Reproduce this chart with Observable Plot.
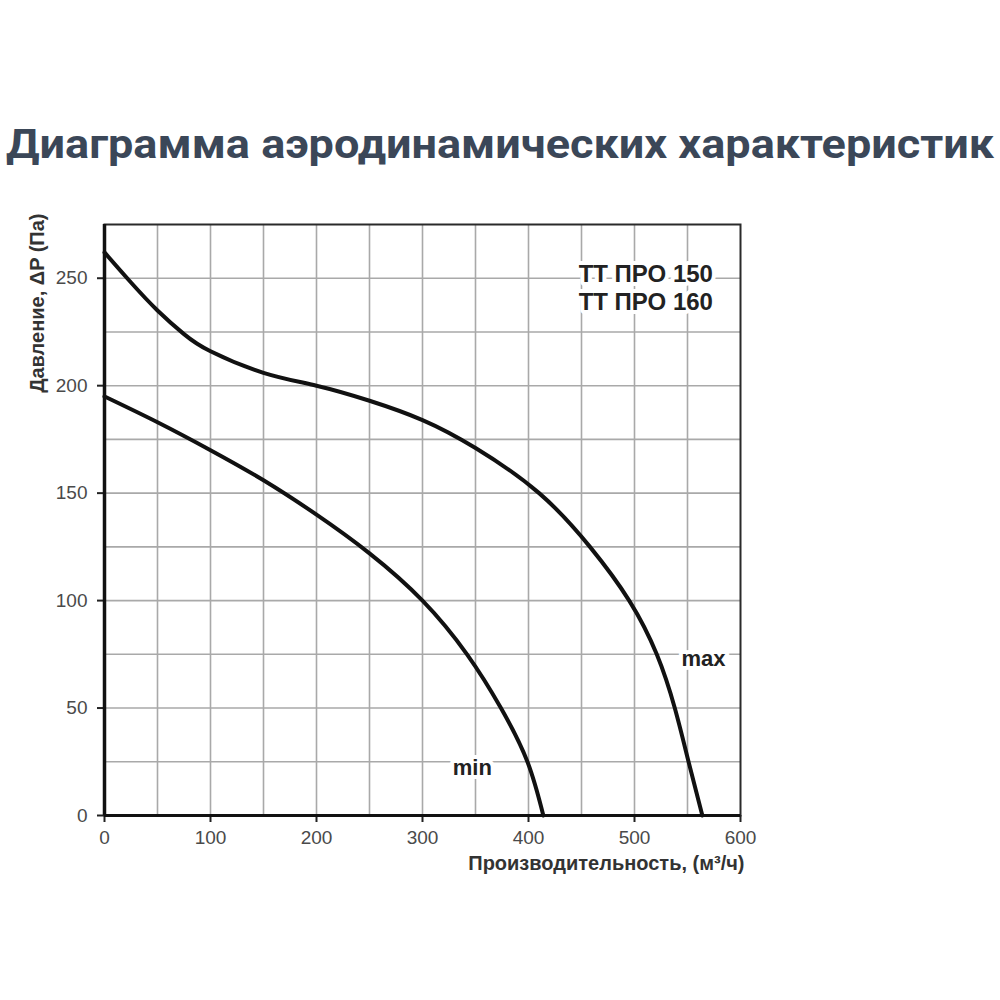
<!DOCTYPE html>
<html><head><meta charset="utf-8">
<script src="https://cdn.jsdelivr.net/npm/d3@7"></script>
<script src="https://cdn.jsdelivr.net/npm/@observablehq/plot@0.6"></script>
<style>
body{margin:0;background:#fff;width:1000px;height:1000px;position:relative;overflow:hidden}
#title{position:absolute;left:6px;top:125px;font-family:Roboto,sans-serif;font-weight:700;font-size:40px;color:#3b4758;white-space:nowrap;transform-origin:0 0;line-height:1}
#chart{position:absolute;left:0;top:200px}
</style></head><body>
<div id="title">Диаграмма аэродинамических характеристик</div>
<div id="chart"></div>
<script>
// Curve "max"
const maxFlow =     [0,   25,  50,  75,  100, 150, 200, 250, 300, 350, 410, 458, 495, 521, 538, 551, 564];
const maxPressure = [262, 248, 235, 224, 216, 206, 200, 193, 184, 171, 150, 125, 100, 75,  50,  25,  0];
// Curve "min"
const minFlow =     [0,   50,  100, 150, 200, 250, 300, 342, 374, 399, 414];
const minPressure = [195, 183, 170, 156, 140, 122, 100, 75,  50,  25,  0];

const xTicks = [0, 100, 200, 300, 400, 500, 600];
const yTicks = [0, 50, 100, 150, 200, 250];
const xGrid = [50, 100, 150, 200, 250, 300, 350, 400, 450, 500, 550];
const yGrid = [25, 50, 75, 100, 125, 150, 175, 200, 225, 250];

const curveNames = ["max", "min"];
const curveLabelX = [565, 347];
const curveLabelY = [72.7, 22.3];

const modelNames = ["ТТ ПРО 150", "ТТ ПРО 160"];
const modelLabelX = [574, 574];
const modelLabelY = [252, 239];

const xLabel = "Производительность, (м³/ч)";
const yLabel = "Давление, ΔP (Па)";

const rows = [
  ...maxFlow.map((x, i) => ({series: "max", x, y: maxPressure[i]})),
  ...minFlow.map((x, i) => ({series: "min", x, y: minPressure[i]}))
];
const curveLabels = curveNames.map((t, i) => ({t, x: curveLabelX[i], y: curveLabelY[i]}));
const modelLabels = modelNames.map((t, i) => ({t, x: modelLabelX[i], y: modelLabelY[i]}));

const chart = Plot.plot({
  width: 1000, height: 700,
  marginLeft: 104, marginRight: 260, marginTop: 24, marginBottom: 85,
  x: {domain: [0, 600]},
  y: {domain: [0, 275]},
  style: {fontFamily: "'Liberation Sans', Arial, sans-serif", fontSize: "19px", color: "#4a4a4a", background: "white"},
  marks: [
    Plot.gridX(xGrid, {stroke: "#a9a9a9", strokeOpacity: 1, strokeWidth: 1.6}),
    Plot.gridY(yGrid, {stroke: "#a9a9a9", strokeOpacity: 1, strokeWidth: 1.6}),
    Plot.frame({stroke: "#2a2a2a", strokeWidth: 2}),
    Plot.axisX(xTicks, {tickSize: 7, tickPadding: 8, label: null, stroke: "#222", strokeWidth: 2, fill: "#4a4a4a", fontSize: 19}),
    Plot.axisY(yTicks, {tickSize: 7, tickPadding: 10, label: null, stroke: "#222", strokeWidth: 2, fill: "#4a4a4a", fontSize: 19}),
    Plot.ruleX([0], {stroke: "#111", strokeWidth: 3.5}),
    Plot.ruleY([0], {stroke: "#111", strokeWidth: 3}),
    Plot.line(rows, {x: "x", y: "y", z: "series", curve: "natural", stroke: "#111", strokeWidth: 4}),
    Plot.text(curveLabels, {x: "x", y: "y", text: "t", fill: "#222", stroke: "white", strokeWidth: 8, fontSize: 22, fontWeight: "bold"}),
    Plot.text(modelLabels, {x: "x", y: "y", text: "t", textAnchor: "end", fill: "#222", stroke: "white", strokeWidth: 8, fontSize: 24, fontWeight: "bold"}),
    Plot.text([xLabel], {frameAnchor: "bottom-right", text: d => d, textAnchor: "end", dx: 4, dy: 54, fill: "#333", fontSize: 20, fontWeight: "bold"}),
    Plot.text([yLabel], {frameAnchor: "top-left", text: d => d, rotate: -90, textAnchor: "end", dx: -75, dy: -11, fill: "#333", fontSize: 20, fontWeight: "bold"})
  ]
});
document.getElementById("chart").appendChild(chart);

const title = document.getElementById("title");
const w = title.getBoundingClientRect().width;
title.style.transform = `scaleX(${988 / w})`;
</script>
</body></html>
